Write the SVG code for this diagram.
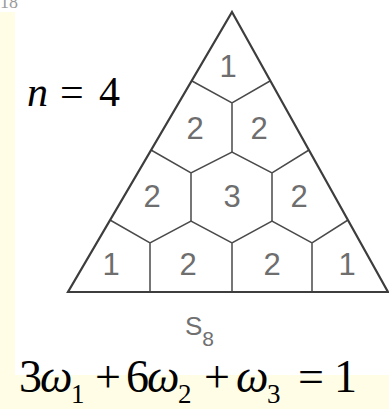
<svg xmlns="http://www.w3.org/2000/svg" width="389" height="409" viewBox="0 0 389 409">
<style>
.edge{fill:none;stroke:#3d3d3d;stroke-width:2.2;stroke-linejoin:miter}
.cell{fill:none;stroke:#4a4a4a;stroke-width:1.5}
.num{font-family:"Liberation Sans",Arial,sans-serif;font-size:31px;fill:#6e6e6e;text-anchor:middle}
.math{font-family:"Liberation Serif","Times New Roman",serif;fill:#000}
</style>
<rect x="0" y="0" width="389" height="409" fill="#ffffff"/>
<rect x="0" y="12" width="15" height="397" fill="#fffde6"/>
<rect x="0" y="375" width="389" height="34" fill="#fffde6"/>
<text x="0" y="8" font-family="Liberation Serif,serif" font-size="18" fill="#9a9a9a">18</text>
<g id="connectors">
<g id="cell-boundaries">
<path class="cell" d="M192,81 L232,103 L270,81 M232,103 V152"/>
<path class="cell" d="M151,150 L191,173 L232,152 L272,173 L309,150 M191,173 V221 M272,173 V221"/>
<path class="cell" d="M110,220 L150,243 L191,221 L232,243 L272,221 L312,243 L348,220 M150,243 V292 M232,243 V292 M312,243 V292"/>
</g>
</g>
<g id="triangle"><path class="edge" d="M232,12 L388,292 L68,292 Z"/></g>
<g id="cells">
<g id="c1"><text class="num" x="228" y="77">1</text></g>
<g id="c2a"><text class="num" x="195" y="139">2</text></g>
<g id="c2b"><text class="num" x="259" y="139">2</text></g>
<g id="c3a"><text class="num" x="152" y="207">2</text></g>
<g id="c3b"><text class="num" x="232" y="207">3</text></g>
<g id="c3c"><text class="num" x="299" y="207">2</text></g>
<g id="c4a"><text class="num" x="111" y="275">1</text></g>
<g id="c4b"><text class="num" x="188" y="275">2</text></g>
<g id="c4c"><text class="num" x="272" y="275">2</text></g>
<g id="c4d"><text class="num" x="347" y="275">1</text></g>
</g>
<g id="label-n"><text class="math" x="27" y="106" font-size="42"><tspan font-style="italic">n</tspan><tspan x="60">=</tspan><tspan x="99">4</tspan></text></g>
<g id="label-s8"><text font-family="Liberation Sans,Arial,sans-serif" fill="#707070" font-size="26" x="185" y="335">S<tspan font-size="21" dy="11">8</tspan></text></g>
<g id="equation"><text class="math" font-size="46" y="392"><tspan x="19">3</tspan><tspan x="40" font-style="italic">ω</tspan><tspan x="71" dy="11" font-size="27">1</tspan><tspan x="95" dy="-11">+</tspan><tspan x="126">6</tspan><tspan x="147" font-style="italic">ω</tspan><tspan x="178" dy="11" font-size="27">2</tspan><tspan x="204" dy="-11">+</tspan><tspan x="236" font-style="italic">ω</tspan><tspan x="267" dy="11" font-size="27">3</tspan><tspan x="298" dy="-11">=</tspan><tspan x="334">1</tspan></text></g>
</svg>
